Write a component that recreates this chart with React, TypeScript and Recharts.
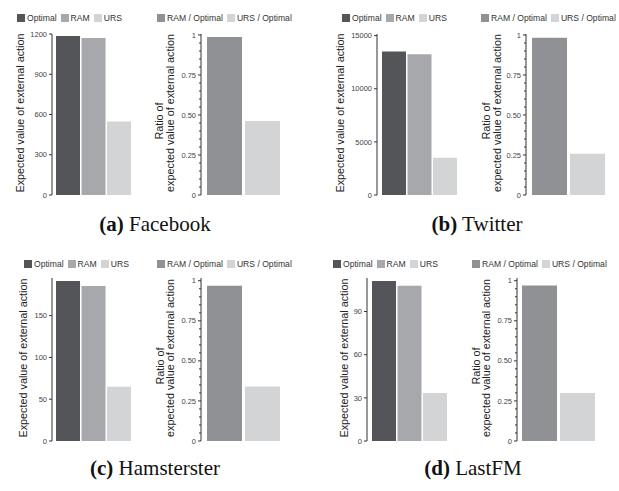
import React from 'react';
import { BarChart, Bar, XAxis, YAxis } from 'recharts';

// series names and colours
const methodNames = ['Optimal', 'RAM', 'URS'];
const methodColors = ['#545558', '#a7a8ab', '#d3d4d6'];
const ratioNames = ['RAM / Optimal', 'URS / Optimal'];
const ratioColors = ['#909194', '#d3d4d6'];

// expected value of external action (Optimal, RAM, URS)
const facebookValues = [1185, 1170, 548];
const twitterValues = [13500, 13250, 3500];
const hamstersterValues = [191.4, 185.4, 65];
const lastfmValues = [111.2, 107.9, 33.4];

// ratios to optimal (RAM / Optimal, URS / Optimal)
const facebookRatios = [0.988, 0.463];
const twitterRatios = [0.982, 0.257];
const hamstersterRatios = [0.968, 0.34];
const lastfmRatios = [0.97, 0.3];

// tick labels
const facebookTicks = [0, 300, 600, 900, 1200];
const twitterTicks = [0, 5000, 10000, 15000];
const hamstersterTicks = [0, 50, 100, 150];
const lastfmTicks = [0, 30, 60, 90];
const ratioMajorTicks = [0, 0.25, 0.5, 0.75, 1];
const ratioAllTicks = [
  0, 0.05, 0.1, 0.15, 0.2, 0.25, 0.3, 0.35, 0.4, 0.45, 0.5,
  0.55, 0.6, 0.65, 0.7, 0.75, 0.8, 0.85, 0.9, 0.95, 1,
];
const ratioLabels: Record<string, string> = { '0': '0', '0.25': '0.25', '0.5': '0.50', '0.75': '0.75', '1': '1' };

const SANS = '"Liberation Sans", Arial, Helvetica, sans-serif';
const SERIF = '"Liberation Serif", "Times New Roman", serif';
const AXIS = '#333333';

const toRow = (values: number[]) => {
  const row: Record<string, number | string> = { name: 'all' };
  values.forEach((v, i) => (row['k' + i] = v));
  return row;
};

const RatioTick = (props: any) => {
  const { x, y, payload } = props;
  const v = payload.value as number;
  const isMajor = ratioMajorTicks.some((t) => Math.abs(t - v) < 1e-6);
  const label = isMajor ? ratioLabels[String(Math.round(v * 100) / 100)] : '';
  return (
    <g>
      <line x1={x - (isMajor ? 3 : 2)} x2={x} y1={y} y2={y} stroke={AXIS} strokeWidth={1} />
      {isMajor && (
        <text x={x - 5} y={y} dy="0.35em" textAnchor="end" fontSize={7.5} fill="#444" fontFamily={SANS}>
          {label}
        </text>
      )}
    </g>
  );
};

interface ChartProps {
  values: number[];
  colors: string[];
  axisX: number;
  plotTop: number;
  zeroY: number;
  padLeft: number;
  padRight: number;
  barsWidth: number;
  gap: number;
  domainMax: number;
  ticks?: number[];
  ratio?: boolean;
}

const PanelChart = ({
  values, colors, axisX, plotTop, zeroY, padLeft, padRight, barsWidth, gap, domainMax, ticks, ratio,
}: ChartProps) => {
  const axisW = 30;
  const mTop = 6;
  const mBottom = 4;
  const mRight = 4;
  const plotW = padLeft + barsWidth + padRight;
  const plotH = zeroY - plotTop;
  return (
    <div style={{ position: 'absolute', left: axisX - axisW, top: plotTop - mTop }}>
      <BarChart
        width={axisW + plotW + mRight}
        height={mTop + plotH + mBottom}
        data={[toRow(values)]}
        margin={{ top: mTop, right: mRight, bottom: mBottom, left: 0 }}
        barCategoryGap={0}
        barGap={gap}
      >
        <XAxis
          dataKey="name"
          height={0}
          tick={false}
          tickLine={false}
          axisLine={{ stroke: AXIS, strokeWidth: 1 }}
          padding={{ left: padLeft, right: padRight }}
        />
        {ratio ? (
          <YAxis
            width={axisW}
            domain={[0, domainMax]}
            ticks={ratioAllTicks}
            interval={0}
            tickSize={0}
            tickMargin={0}
            tickLine={false}
            axisLine={{ stroke: AXIS, strokeWidth: 1 }}
            tick={<RatioTick />}
            allowDataOverflow
          />
        ) : (
          <YAxis
            width={axisW}
            domain={[0, domainMax]}
            ticks={ticks}
            interval={0}
            tickSize={3}
            tickMargin={2}
            tickLine={{ stroke: AXIS }}
            axisLine={{ stroke: AXIS, strokeWidth: 1 }}
            tick={{ fontSize: 7.5, fill: '#444', fontFamily: SANS }}
            allowDataOverflow
          />
        )}
        {values.map((_, i) => (
          <Bar key={i} dataKey={'k' + i} fill={colors[i]} isAnimationActive={false} />
        ))}
      </BarChart>
    </div>
  );
};

const LegendRow = ({ x, cy, names, colors }: { x: number; cy: number; names: string[]; colors: string[] }) => (
  <div
    style={{
      position: 'absolute', left: x, top: cy - 5, height: 10, display: 'flex', alignItems: 'center',
      fontFamily: SANS, fontSize: 8.6, color: '#333', whiteSpace: 'nowrap', lineHeight: '10px',
    }}
  >
    {names.map((n, i) => (
      <span key={n} style={{ display: 'flex', alignItems: 'center', marginRight: i < names.length - 1 ? 4 : 0 }}>
        <span style={{ display: 'inline-block', width: 8, height: 8, background: colors[i], marginRight: 2 }} />
        {n}
      </span>
    ))}
  </div>
);

const Rotated = ({ cx, cy, text, size }: { cx: number; cy: number; text: string; size: number }) => (
  <div
    style={{
      position: 'absolute', left: cx, top: cy, transform: 'translate(-50%, -50%) rotate(-90deg)',
      whiteSpace: 'nowrap', fontFamily: SANS, fontSize: size, lineHeight: 1, color: '#222',
    }}
  >
    {text}
  </div>
);

const Caption = ({ cx, cy, tag, name }: { cx: number; cy: number; tag: string; name: string }) => (
  <div
    style={{
      position: 'absolute', left: cx, top: cy, transform: 'translate(-50%, -50%)',
      whiteSpace: 'nowrap', fontFamily: SERIF, fontSize: 21, lineHeight: 1, color: '#111',
    }}
  >
    <b>({tag})</b> {name}
  </div>
);

const panels = [
  {
    tag: 'a', name: 'Facebook', values: facebookValues, ratios: facebookRatios, ticks: facebookTicks, max: 1200,
    ax1: 52, ax2: 201, pad1: 4, pad2: 6, plotTop: 34, zeroY: 195, ratioMax: 1.006,
    leg1: 17, leg2: 157, legY: 17.5, t1: 20, t2a: 159, t2b: 170, titleY: 113, ratioY: 121, capX: 155, capY: 224,
  },
  {
    tag: 'b', name: 'Twitter', values: twitterValues, ratios: twitterRatios, ticks: twitterTicks, max: 15150,
    ax1: 377, ax2: 526, pad1: 5, pad2: 6, plotTop: 34, zeroY: 195, ratioMax: 1.006,
    leg1: 342, leg2: 481, legY: 17.5, t1: 340, t2a: 486, t2b: 497, titleY: 113, ratioY: 121, capX: 477, capY: 224,
  },
  {
    tag: 'c', name: 'Hamsterster', values: hamstersterValues, ratios: hamstersterRatios, ticks: hamstersterTicks, max: 195,
    ax1: 52, ax2: 201, pad1: 4, pad2: 6, plotTop: 278, zeroY: 441, ratioMax: 1.017,
    leg1: 24, leg2: 157, legY: 263.5, t1: 23, t2a: 160, t2b: 170, titleY: 358, ratioY: 366, capX: 155, capY: 468,
  },
  {
    tag: 'd', name: 'LastFM', values: lastfmValues, ratios: lastfmRatios, ticks: lastfmTicks, max: 113.3,
    ax1: 367, ax2: 517, pad1: 5, pad2: 5, plotTop: 278, zeroY: 441, ratioMax: 1.017,
    leg1: 333, leg2: 472, legY: 263.5, t1: 344, t2a: 476, t2b: 486, titleY: 358, ratioY: 366, capX: 473, capY: 468,
  },
];

export default function App() {
  return (
    <div style={{ position: 'absolute', left: 0, top: 0, width: 619, height: 491, background: '#fff', overflow: 'hidden' }}>
      {panels.map((p) => (
        <React.Fragment key={p.tag}>
          <LegendRow x={p.leg1} cy={p.legY} names={methodNames} colors={methodColors} />
          <LegendRow x={p.leg2} cy={p.legY} names={ratioNames} colors={ratioColors} />
          <Rotated cx={p.t1} cy={p.titleY} text="Expected value of external action" size={10.8} />
          <Rotated cx={p.t2a} cy={p.ratioY} text="Ratio of" size={10.8} />
          <Rotated cx={p.t2b} cy={p.titleY} text="expected value of external action" size={10.8} />
          <PanelChart
            values={p.values}
            colors={methodColors}
            axisX={p.ax1}
            plotTop={p.plotTop}
            zeroY={p.zeroY}
            padLeft={p.pad1}
            padRight={1}
            barsWidth={75}
            gap={1.5}
            domainMax={p.max}
            ticks={p.ticks}
          />
          <PanelChart
            values={p.ratios}
            colors={ratioColors}
            axisX={p.ax2}
            plotTop={p.plotTop}
            zeroY={p.zeroY}
            padLeft={p.pad2}
            padRight={5}
            barsWidth={72}
            gap={3}
            domainMax={p.ratioMax}
            ratio
          />
          <Caption cx={p.capX} cy={p.capY} tag={p.tag} name={p.name} />
        </React.Fragment>
      ))}
    </div>
  );
}
